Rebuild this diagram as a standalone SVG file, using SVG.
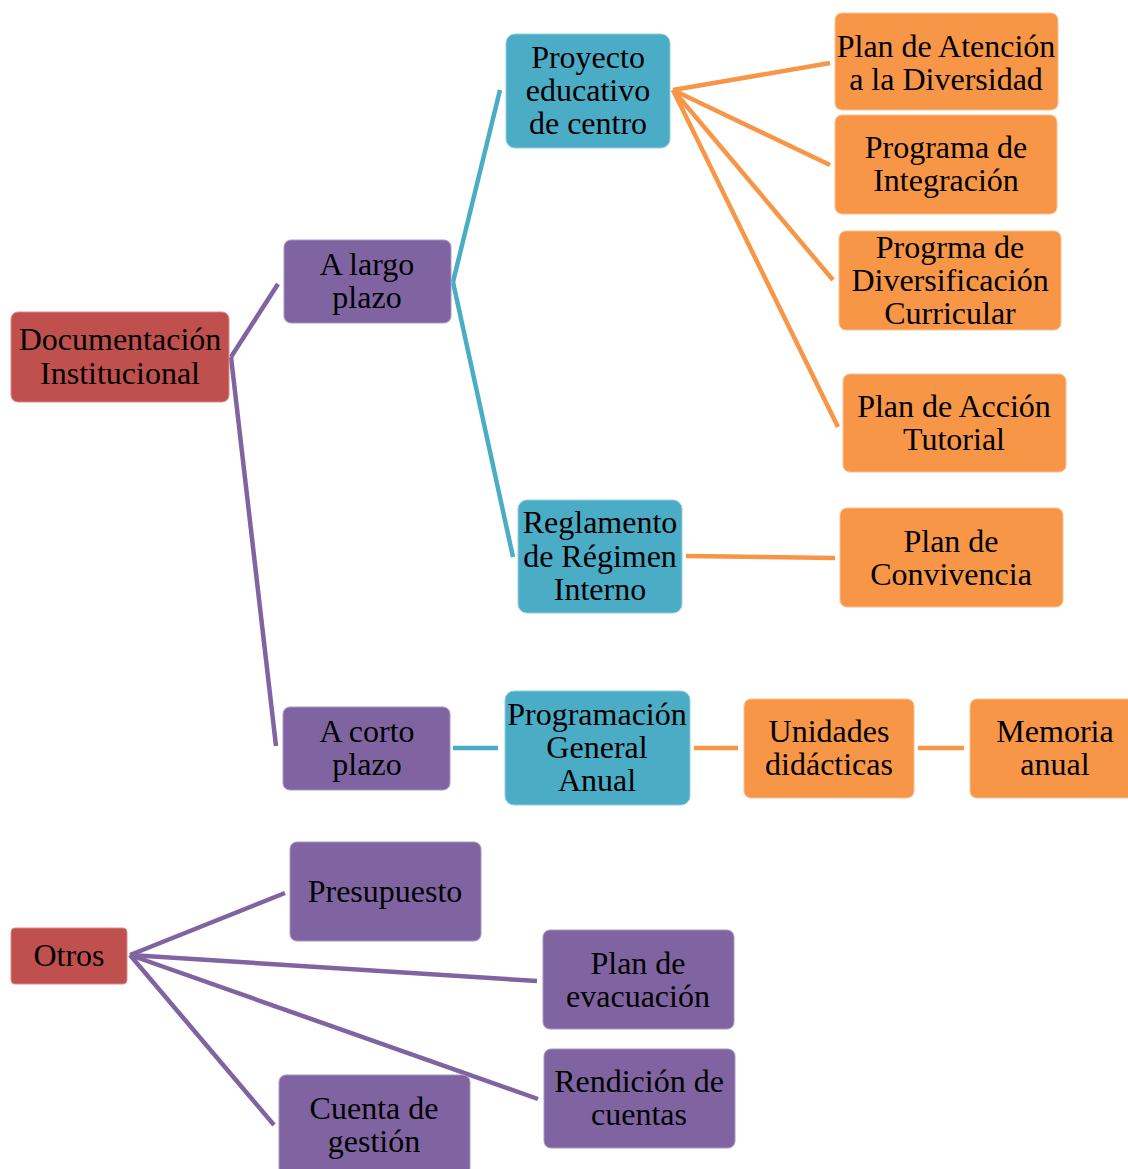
<svg xmlns="http://www.w3.org/2000/svg" width="1128" height="1169" viewBox="0 0 1128 1169">
<style>
.n rect{stroke-width:1}
.red rect{fill:#C0504D;stroke:#D88A88}
.pur rect{fill:#8064A2;stroke:#A996C0}
.blu rect{fill:#4BACC6;stroke:#93CFDF}
.ora rect{fill:#F79646;stroke:#FAC093}
.n text{font-family:"Liberation Serif","Times New Roman",serif;font-size:32px;fill:#000;text-anchor:middle}
.c line{stroke-width:4.5;stroke-linecap:butt}
.cp{stroke:#8064A2}.cb{stroke:#4BACC6}.co{stroke:#F79646}
</style>
<rect width="1128" height="1169" fill="#fff"/>
<g id="connectors" class="c">
<line class="cp" x1="231" y1="357" x2="278" y2="284"/>
<line class="cp" x1="231" y1="357" x2="276" y2="746"/>
<line class="cb" x1="453" y1="282" x2="500" y2="90"/>
<line class="cb" x1="453" y1="282" x2="513" y2="557"/>
<line class="co" x1="673" y1="90" x2="830" y2="63"/>
<line class="co" x1="673" y1="90" x2="830" y2="165"/>
<line class="co" x1="673" y1="90" x2="833" y2="280"/>
<line class="co" x1="673" y1="90" x2="838" y2="427"/>
<line class="co" x1="686" y1="556" x2="835" y2="558"/>
<line class="cb" x1="453" y1="748" x2="498" y2="748"/>
<line class="co" x1="694" y1="748" x2="738" y2="748"/>
<line class="co" x1="918" y1="748" x2="964" y2="748"/>
<line class="cp" x1="130" y1="955" x2="285" y2="893"/>
<line class="cp" x1="130" y1="955" x2="537" y2="981"/>
<line class="cp" x1="130" y1="955" x2="538" y2="1099"/>
<line class="cp" x1="130" y1="955" x2="274" y2="1125"/>
</g>
<g id="doc" class="n red"><rect x="11" y="312" width="218" height="90" rx="7"/><text x="120" y="350">Documentación</text><text x="120" y="384">Institucional</text></g>
<g id="largo" class="n pur"><rect x="284" y="240" width="167" height="83" rx="7"/><text x="367" y="275">A largo</text><text x="367" y="308">plazo</text></g>
<g id="proyecto" class="n blu"><rect x="506" y="34" width="164" height="114" rx="9"/><text x="588" y="68">Proyecto</text><text x="588" y="101">educativo</text><text x="588" y="134">de centro</text></g>
<g id="pad" class="n ora"><rect x="835" y="13" width="223" height="97" rx="7"/><text x="946" y="57">Plan de Atención</text><text x="946" y="90">a la Diversidad</text></g>
<g id="pi" class="n ora"><rect x="835" y="115" width="222" height="99" rx="7"/><text x="946" y="158">Programa de</text><text x="946" y="191">Integración</text></g>
<g id="pdc" class="n ora"><rect x="839" y="231" width="222" height="99" rx="7"/><text x="950" y="258">Progrma de</text><text x="950" y="291">Diversificación</text><text x="950" y="324">Curricular</text></g>
<g id="pat" class="n ora"><rect x="843" y="374" width="223" height="98" rx="7"/><text x="954" y="417">Plan de Acción</text><text x="954" y="450">Tutorial</text></g>
<g id="reglamento" class="n blu"><rect x="518" y="500" width="164" height="113" rx="9"/><text x="600" y="533">Reglamento</text><text x="600" y="567">de Régimen</text><text x="600" y="600">Interno</text></g>
<g id="pc" class="n ora"><rect x="840" y="508" width="223" height="99" rx="7"/><text x="951" y="552">Plan de</text><text x="951" y="585">Convivencia</text></g>
<g id="corto" class="n pur"><rect x="283" y="707" width="167" height="83" rx="7"/><text x="367" y="742">A corto</text><text x="367" y="775">plazo</text></g>
<g id="pga" class="n blu"><rect x="505" y="691" width="185" height="114" rx="9"/><text x="597" y="725">Programación</text><text x="597" y="758">General</text><text x="597" y="791">Anual</text></g>
<g id="unidades" class="n ora"><rect x="744" y="699" width="170" height="99" rx="7"/><text x="829" y="742">Unidades</text><text x="829" y="775">didácticas</text></g>
<g id="memoria" class="n ora"><rect x="970" y="699" width="170" height="99" rx="7"/><text x="1055" y="742">Memoria</text><text x="1055" y="775">anual</text></g>
<g id="otros" class="n red"><rect x="11" y="928" width="116" height="56" rx="4"/><text x="69" y="966">Otros</text></g>
<g id="presupuesto" class="n pur"><rect x="290" y="842" width="191" height="99" rx="7"/><text x="385" y="902">Presupuesto</text></g>
<g id="evacuacion" class="n pur"><rect x="543" y="930" width="191" height="99" rx="7"/><text x="638" y="974">Plan de</text><text x="638" y="1007">evacuación</text></g>
<g id="rendicion" class="n pur"><rect x="544" y="1049" width="191" height="99" rx="7"/><text x="639" y="1092">Rendición de</text><text x="639" y="1125">cuentas</text></g>
<g id="cuenta" class="n pur"><rect x="279" y="1075" width="191" height="100" rx="7"/><text x="374" y="1119">Cuenta de</text><text x="374" y="1152">gestión</text></g>
</svg>
